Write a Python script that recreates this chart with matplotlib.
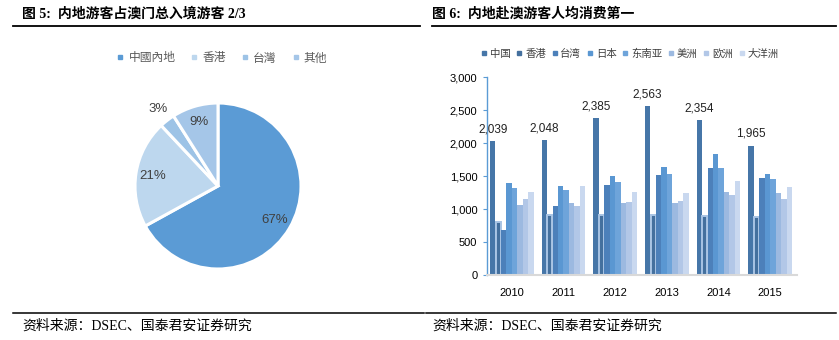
import numpy as np
import matplotlib
matplotlib.use('Agg')
import matplotlib.pyplot as plt
from matplotlib.lines import Line2D

plt.rcParams['font.family'] = ['Liberation Serif', 'Noto Sans CJK SC']

W, H = 839, 340

# left panel: share of visitors
pie_labels = ['中國內地', '香港', '台灣', '其他']
pie_share = [67, 21, 3, 9]
pie_colors = ['#5B9BD5', '#BDD7EE', '#9DC3E6', '#A5C6E8']

# right panel: spending per visitor by origin
years = ['2010', '2011', '2012', '2013', '2014', '2015']
regions = ['中国', '香港', '台湾', '日本', '东南亚', '美洲', '欧洲', '大洋洲']
china = [2039, 2048, 2385, 2563, 2354, 1965]
hongkong = [810, 910, 905, 905, 895, 885]
taiwan = [685, 1050, 1360, 1517, 1618, 1471]
japan = [1395, 1355, 1497, 1634, 1841, 1527]
se_asia = [1319, 1289, 1405, 1527, 1628, 1451]
americas = [1065, 1096, 1091, 1096, 1263, 1243]
europe = [1152, 1050, 1106, 1121, 1207, 1157]
oceania = [1258, 1345, 1263, 1238, 1426, 1339]
series = [china, hongkong, taiwan, japan, se_asia, americas, europe, oceania]
bar_colors = ['#4676A8', '#44709E', '#4C80BA', '#5A97D2', '#6EA4DA',
              '#9CB9E0', '#B2C7E7', '#C9D8EF']


def box(x0, y0, x1, y1):
    # pixel box (top-left origin) -> figure fraction rect
    return [x0 / W, 1 - y1 / H, (x1 - x0) / W, (y1 - y0) / H]


fig = plt.figure(figsize=(W / 100, H / 100), dpi=100)

# headers, rules and source notes
title_font = dict(fontsize=10, fontweight='bold', color='black', va='center')
fig.text(22 / W, 1 - 14 / H, '图 5:  内地游客占澳门总入境游客 2/3', **title_font)
fig.text(432 / W, 1 - 14 / H, '图 6:  内地赴澳游客人均消费第一', **title_font)
for x0, x1 in [(13, 420), (432, 836)]:
    fig.add_artist(Line2D([x0 / W, x1 / W], [1 - 25.5 / H] * 2, color='black',
                          lw=1.3, transform=fig.transFigure))
for x0, x1 in [(13, 424), (426, 836)]:
    fig.add_artist(Line2D([x0 / W, x1 / W], [1 - 313 / H] * 2, color='black',
                          lw=1.1, transform=fig.transFigure))
for x in [22, 432]:
    fig.text(x / W, 1 - 326 / H, '资料来源：DSEC、国泰君安证券研究', fontsize=10,
             color='black', va='center')

# ---- pie ----
ax1 = fig.add_axes(box(135, 103, 301, 269))
wedges, _ = ax1.pie(pie_share, colors=pie_colors, startangle=90, counterclock=False,
                    wedgeprops=dict(edgecolor='white', linewidth=2.2))
ax1.set_xlim(-1, 1)
ax1.set_ylim(-1, 1)
ax1.set_aspect('equal')
for w, v in zip(wedges, pie_share):
    mid = np.deg2rad((w.theta1 + w.theta2) / 2)
    r = 1.17 if v < 5 else 0.8
    ax1.text(r * np.cos(mid), r * np.sin(mid), f'{v}%', ha='center', va='center',
             fontsize=9.5, color='#404040', family=['Liberation Sans'])

pie_handles = [Line2D([], [], marker='s', ls='', color=c, markersize=3.5)
               for c in pie_colors]
fig.legend(pie_handles, pie_labels, loc='center', bbox_to_anchor=(222 / W, 1 - 58 / H),
           ncol=4, frameon=False, handlelength=0.6, handletextpad=0.4,
           columnspacing=1.3, labelcolor='#595959',
           prop={'family': ['Noto Sans CJK TC'], 'size': 8.5})

# ---- grouped bars ----
ax2 = fig.add_axes(box(487, 77.3, 797, 275))
x = np.arange(len(years))
bw = 0.106
for j, (vals, c, name) in enumerate(zip(series, bar_colors, regions)):
    pos = x + (j - 3.5) * bw
    if name == '香港':
        ax2.bar(pos, vals, bw * 0.95, color=c, edgecolor='#A8C4E4', linewidth=1.4,
                label=name)
    else:
        ax2.bar(pos, vals, bw, color=c, label=name)
    if name == '中国':
        for px, v in zip(pos, vals):
            ax2.annotate(f'{v:,}', (px, v), xytext=(0, 4), textcoords='offset points',
                         ha='center', va='bottom', fontsize=8.5, color='#222222',
                         family=['Liberation Sans'])

ax2.set_xlim(-0.48, 5.52)
ax2.set_ylim(0, 3000)
ax2.set_yticks(range(0, 3001, 500))
ax2.set_yticklabels([f'{v:,}' for v in range(0, 3001, 500)],
                    family=['Liberation Sans'], fontsize=8)
ax2.set_xticks(x)
ax2.set_xticklabels(years, family=['Liberation Sans'], fontsize=8)
ax2.tick_params(axis='x', length=0, pad=9)
ax2.tick_params(axis='y', length=3, color='#5B9BD5', pad=4)
for s in ['top', 'right']:
    ax2.spines[s].set_visible(False)
ax2.spines['left'].set_color('#5B9BD5')
ax2.spines['left'].set_linewidth(1.0)
ax2.spines['bottom'].set_color('#D9D9D9')
ax2.spines['bottom'].set_linewidth(1.5)

bar_handles = [Line2D([], [], marker='s', ls='', color=c, markersize=3.5)
               for c in bar_colors]
fig.legend(bar_handles, regions, loc='center', bbox_to_anchor=(630 / W, 1 - 54 / H),
           ncol=8, frameon=False, handlelength=0.5, handletextpad=0.3,
           columnspacing=0.6, labelcolor='#404040',
           prop={'family': ['Noto Sans CJK SC'], 'size': 7.5})

fig.savefig('out.png', dpi=100)
